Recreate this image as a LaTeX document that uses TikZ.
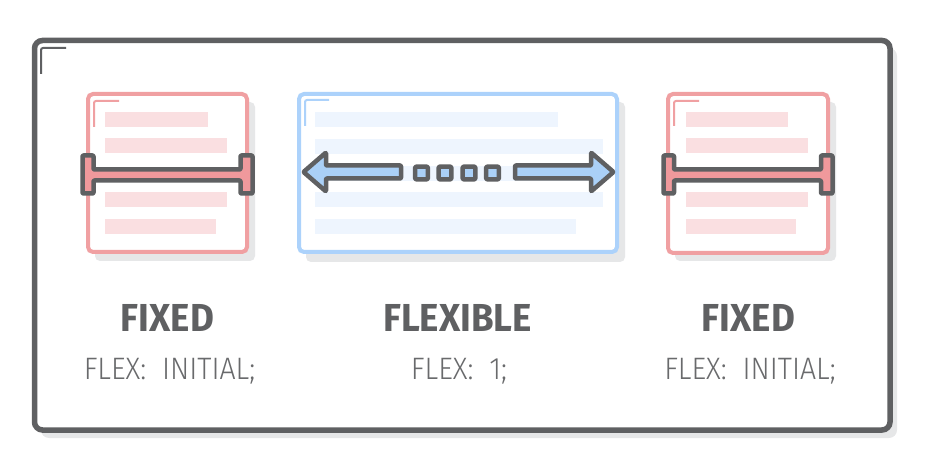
\documentclass[tikz,border=0pt]{standalone}
\usepackage{fontspec}
\setmainfont{Fira Sans}
\newfontfamily\titlefont{Fira Sans}[UprightFont=* Bold]
\newfontfamily\subfont{Fira Sans}[UprightFont=* Light]
\definecolor{framegray}{RGB}{95,96,98}
\definecolor{shadowgray}{RGB}{230,231,232}
\definecolor{redline}{RGB}{240,160,162}
\definecolor{pinkbar}{RGB}{250,223,225}
\definecolor{beamfill}{RGB}{240,153,156}
\definecolor{blueline}{RGB}{172,210,251}
\definecolor{bluebar}{RGB}{238,245,254}
\definecolor{arrowfill}{RGB}{170,208,247}
\definecolor{subgray}{RGB}{105,106,108}
\tikzset{
  shadowbox/.style={fill=shadowgray, rounded corners=5pt},
  panelbox/.style={fill=white, line width=4pt, rounded corners=5pt},
  cornermark/.style={line width=2pt, rounded corners=2pt},
  gshape/.style={draw=framegray, line width=4.5pt, line join=round, rounded corners=0.8pt},
  titletext/.style={anchor=base, text=framegray, font=\titlefont\fontsize{39}{39}\selectfont, inner sep=0pt},
  subtext/.style={anchor=base, text=subgray, font=\subfont\fontsize{31}{31}\selectfont, inner sep=0pt}
}
\begin{document}
\begin{tikzpicture}[x=1pt, y=-1pt]
\useasboundingbox (0,0) rectangle (932,470);
% outer frame
\fill[shadowgray, rounded corners=8pt] (41,48) rectangle (897,438);
\draw[framegray, fill=white, line width=5.5pt, rounded corners=8pt] (34.5,40.5) rectangle (890,430);
\draw[framegray, cornermark] (41,74) -- (41,48) -- (66,48);

% left fixed box
\fill[shadowbox] (95,102) rectangle (255,261);
\draw[panelbox, draw=redline] (88,94) rectangle (247,252);
\draw[redline, cornermark] (94,127) -- (94,101) -- (119,101);
\foreach \ya/\xb in {112/208,138/227,192/227,219/216}
  \fill[pinkbar] (105,\ya) rectangle (\xb,\ya+15.5);
\draw[gshape, fill=beamfill] (82.5,155.5) -- (93.5,155.5) -- (93.5,169.5) -- (240.5,169.5) -- (240.5,155.5) -- (252.5,155.5) -- (252.5,193.5) -- (240.5,193.5) -- (240.5,180.5) -- (93.5,180.5) -- (93.5,193.5) -- (82.5,193.5) -- cycle;

% middle flexible box
\fill[shadowbox] (306,102) rectangle (625,262);
\draw[panelbox, draw=blueline] (299,94) rectangle (617,252);
\draw[blueline, cornermark] (305,126) -- (305,100) -- (329,100);
\foreach \ya/\xb in {112/558,139/603,166/603,192/603,219/576}
  \fill[bluebar] (315,\ya) rectangle (\xb,\ya+15);
\draw[gshape, fill=arrowfill] (303.5,172) -- (326,152.5) -- (326,165.5) -- (401,165.5) -- (401,178.5) -- (326,178.5) -- (326,191.5) -- cycle;
\draw[gshape, fill=arrowfill] (613.5,172) -- (591,152.5) -- (591,165.5) -- (515,165.5) -- (515,178.5) -- (591,178.5) -- (591,191.5) -- cycle;
\foreach \cx in {421.5,445,469,492.5}
  \draw[gshape, fill=arrowfill] (\cx-6.3,166.7) rectangle (\cx+6.3,179.3);

% right fixed box
\fill[shadowbox] (675,102) rectangle (836,261);
\draw[panelbox, draw=redline] (668,94) rectangle (828,253);
\draw[redline, cornermark] (674,126) -- (674,101) -- (699,101);
\foreach \ya/\xb in {112/788,138/808,192/808,219/796}
  \fill[pinkbar] (686,\ya) rectangle (\xb,\ya+15.5);
\draw[gshape, fill=beamfill] (663.5,155.5) -- (674,155.5) -- (674,169.5) -- (821,169.5) -- (821,155.5) -- (832.5,155.5) -- (832.5,193.5) -- (821,193.5) -- (821,180.5) -- (674,180.5) -- (674,193.5) -- (663.5,193.5) -- cycle;

% labels
\node[titletext] (t1) at (167.5,332) {\scalebox{0.94}[1]{FIXED}};
\node[subtext] (s1) at (169.5,380) {\scalebox{0.92}[1]{FLEX:\ \ INITIAL;}};
\node[titletext] (t2) at (457.5,332) {\scalebox{0.94}[1]{FLEXIBLE}};
\node[subtext] (s2) at (459,380) {\scalebox{0.92}[1]{FLEX:\ \ 1;}};
\node[titletext] (t3) at (748.5,332) {\scalebox{0.94}[1]{FIXED}};
\node[subtext] (s3) at (750,380) {\scalebox{0.92}[1]{FLEX:\ \ INITIAL;}};
\end{tikzpicture}
\end{document}
